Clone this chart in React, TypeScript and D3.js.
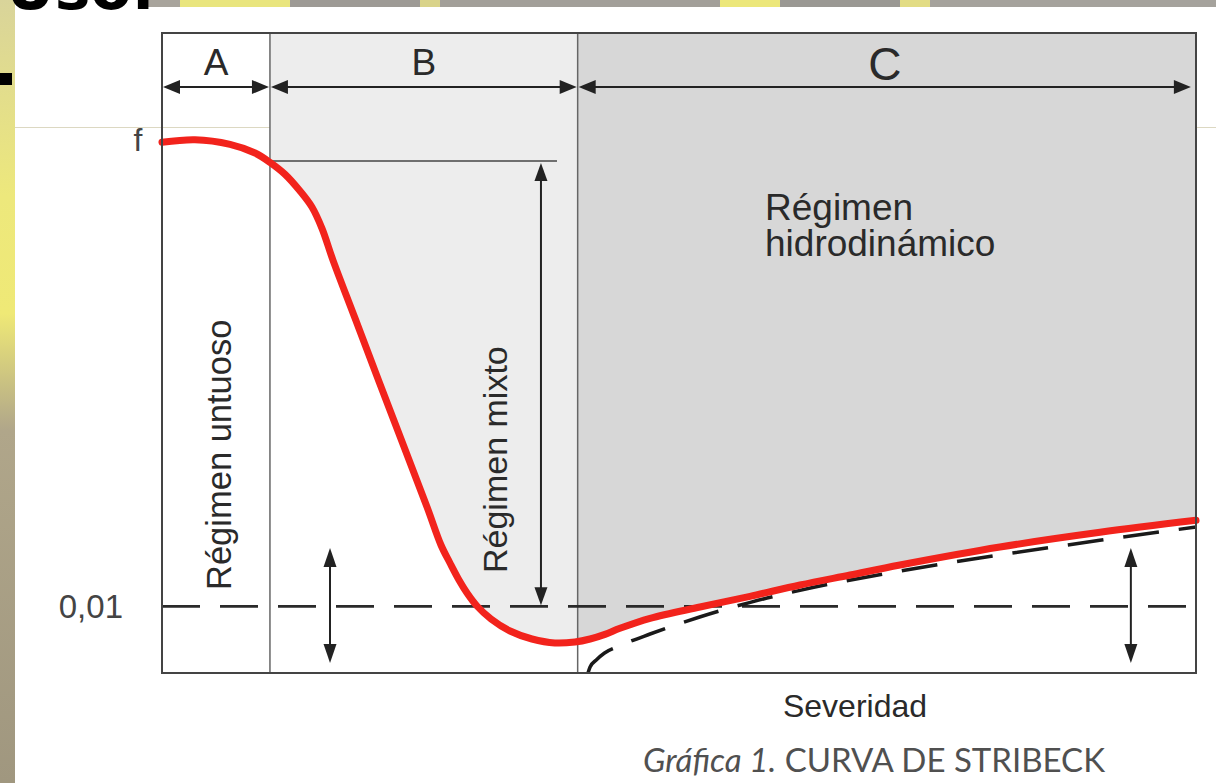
import React from 'react'
import * as d3 from 'd3'

// severity (x, 0-100) and friction coefficient (y)
const regionNames = ['A', 'B', 'C']
const regionBounds = [0, 10.44, 40.2, 100]
const arrowEnds = [[0, 10.44], [10.44, 40.2], [40.2, 99.6]]

const redX = [0, 3.19, 6.58, 9.0, 10.44, 11.9, 13.35, 14.5, 15.47, 16.54, 18.67, 22.05, 25.63, 26.98, 27.85, 28.72, 29.5, 30.46, 31.82, 33.66, 35.78, 37.99, 39.94, 41.4, 42.84, 44.29, 47.2, 52.03, 56.87, 61.7, 66.54, 71.37, 81.04, 90.72, 100]
const redY = [0.0796, 0.08, 0.0793, 0.078, 0.0766, 0.0748, 0.0723, 0.0699, 0.0667, 0.0619, 0.0532, 0.0394, 0.0249, 0.0192, 0.0165, 0.01395, 0.012, 0.01005, 0.0081, 0.0063, 0.0051, 0.0045, 0.00465, 0.0051, 0.0058, 0.0067, 0.0082, 0.0099, 0.0115, 0.0132, 0.0147, 0.0162, 0.0189, 0.0211, 0.0229]

const hydroX = [41.2, 41.4, 42.0, 42.8, 44.0, 47.2, 52.0, 56.9, 61.7, 71.4, 81.0, 90.7, 100]
const hydroY = [0, 0.0009, 0.00195, 0.003, 0.0039, 0.00585, 0.0084, 0.0106, 0.0124, 0.0153, 0.0177, 0.0199, 0.0219]

const fLevel = 0.0796
const refLevel = 0.01
const yTop = 0.096
const arrowLevel = 0.0879
const mixtoX = 36.65
const mixtoTop = 0.0768
const mixtoLineEnd = 38.2
const smallArrowsX = [16.25, 93.7]
const smallArrowRange = [0.0015, 0.01875]

const W = 1216, H = 783
const font = '"Liberation Sans", Arial, sans-serif'

const head = (tx: number, ty: number, dx: number, dy: number, len = 16, half = 6.5) => {
    const bx = tx - dx * len, by = ty - dy * len
    return `${tx},${ty} ${bx - dy * half},${by + dx * half} ${bx + dy * half},${by - dx * half}`
}

const App = () => {
    const x = d3.scaleLinear().domain([0, 100]).range([162, 1196])
    const y = d3.scaleLinear().domain([0, yTop]).range([673, 33])

    const red = redX.map((v, i) => [v, redY[i]] as [number, number])
    const hydro = hydroX.map((v, i) => [v, hydroY[i]] as [number, number])

    const smooth = d3.curveCatmullRom.alpha(0.5)
    const line = d3.line<[number, number]>().x(d => x(d[0])).y(d => y(d[1])).curve(smooth)
    const hydroLine = d3.line<[number, number]>().x(d => x(d[0])).y(d => y(d[1])).curve(d3.curveMonotoneX)
    const area = d3.area<[number, number]>().x(d => x(d[0])).y0(y(yTop)).y1(d => y(d[1])).curve(smooth)

    const shadeColors = ['#ffffff', '#ededed', '#d7d7d7']
    const topSegs = [[148, 180, '#a8a49c'], [180, 290, '#e9e57e'], [290, 420, '#9d9a95'], [420, 440, '#d9d38a'], [440, 720, '#a29f99'], [720, 780, '#ece77a'], [780, 900, '#9a9893'], [900, 930, '#e2dc84'], [930, 1216, '#a5a29c']]

    return (
        <svg width={W} height={H} style={{ position: 'absolute', left: 0, top: 0, background: '#fff' }}>
            <defs>
                <linearGradient id="leftStrip" x1="0" y1="0" x2="0" y2="1">
                    <stop offset="0" stopColor="#d9d49a" />
                    <stop offset="0.25" stopColor="#ede87c" />
                    <stop offset="0.4" stopColor="#efe976" />
                    <stop offset="0.55" stopColor="#b0a68a" />
                    <stop offset="1" stopColor="#a0977f" />
                </linearGradient>
                {regionNames.map((n, i) => (
                    <clipPath id={'clip' + n} key={n}>
                        <rect x={x(regionBounds[i])} y={y(yTop)} width={x(regionBounds[i + 1]) - x(regionBounds[i])} height={y(0) - y(yTop)} />
                    </clipPath>
                ))}
            </defs>

            {/* page decorations */}
            <rect x={0} y={0} width={15} height={H} fill="url(#leftStrip)" />
            {topSegs.map((s, i) => <rect key={i} x={s[0] as number} y={0} width={(s[1] as number) - (s[0] as number)} height={7} fill={s[2] as string} />)}
            <text x={6} y={9} fontFamily='"DejaVu Sans", sans-serif' fontWeight="bold" fontSize={60} fill="#000">Uso.</text>
            <rect x={0} y={73} width={12} height={12} fill="#000" />
            <line x1={15} x2={W} y1={127.5} y2={127.5} stroke="#dcd8c2" strokeWidth={1} />

            {/* shading above curve */}
            {regionNames.map((n, i) => i > 0 && (
                <path key={n} d={area(red) || ''} fill={shadeColors[i]} clipPath={`url(#clip${n})`} />
            ))}

            {/* region dividers */}
            {regionBounds.slice(1, -1).map((b, i) => (
                <line key={i} x1={x(b)} x2={x(b)} y1={y(yTop)} y2={y(0)} stroke="#666" strokeWidth={1.5} />
            ))}

            {/* 0,01 reference */}
            <line x1={x(0)} x2={x(100)} y1={y(refLevel)} y2={y(refLevel)} stroke="#2a2a2a" strokeWidth={2.6} strokeDasharray="38 20" />

            {/* mixto range */}
            <line x1={x(regionBounds[1])} x2={x(mixtoLineEnd)} y1={y(mixtoTop)} y2={y(mixtoTop)} stroke="#444" strokeWidth={1.5} />
            <line x1={x(mixtoX)} x2={x(mixtoX)} y1={y(mixtoTop) + 12} y2={y(refLevel) - 12} stroke="#222" strokeWidth={2} />
            <polygon points={head(x(mixtoX), y(mixtoTop) + 2, 0, -1, 18, 6.5)} fill="#222" />
            <polygon points={head(x(mixtoX), y(refLevel) - 1, 0, 1, 18, 6.5)} fill="#222" />

            {/* small double arrows */}
            {smallArrowsX.map((v, i) => (
                <g key={i}>
                    <line x1={x(v)} x2={x(v)} y1={y(smallArrowRange[1]) + 12} y2={y(smallArrowRange[0]) - 12} stroke="#222" strokeWidth={2} />
                    <polygon points={head(x(v), y(smallArrowRange[1]), 0, -1, 19, 6.5)} fill="#222" />
                    <polygon points={head(x(v), y(smallArrowRange[0]), 0, 1, 19, 6.5)} fill="#222" />
                </g>
            ))}

            {/* hydrodynamic theory */}
            <path d={hydroLine(hydro) || ''} fill="none" stroke="#1a1a1a" strokeWidth={3.5} strokeDasharray="36 20" />

            {/* Stribeck curve */}
            <path d={line(red) || ''} fill="none" stroke="#f2231c" strokeWidth={7} strokeLinecap="round" />

            {/* frame */}
            <rect x={x(0)} y={y(yTop)} width={x(100) - x(0)} height={y(0) - y(yTop)} fill="none" stroke="#444" strokeWidth={2} />

            {/* region arrows and labels */}
            {arrowEnds.map((e, i) => {
                const a = x(e[0]) + 1, b = x(e[1]) - 1, yy = y(arrowLevel)
                return (
                    <g key={i}>
                        <line x1={a + 10} x2={b - 10} y1={yy} y2={yy} stroke="#222" strokeWidth={2.2} />
                        <polygon points={head(a, yy, -1, 0, 17, 7)} fill="#222" />
                        <polygon points={head(b, yy, 1, 0, 17, 7)} fill="#222" />
                        <text x={(x(regionBounds[i]) + x(regionBounds[i + 1])) / 2 + (i === 2 ? -2 : 0)} y={i === 2 ? 80 : 75} textAnchor="middle"
                            fontFamily={font} fontSize={i === 2 ? 46 : 37} fill="#2a2a2a">{regionNames[i]}</text>
                    </g>
                )
            })}

            {/* axis labels */}
            <text x={138} y={y(fLevel) + 9} textAnchor="middle" fontFamily={font} fontSize={32} fill="#444">f</text>
            <text x={123} y={y(refLevel) + 12} textAnchor="end" fontFamily={font} fontSize={33} fill="#444">0,01</text>
            <text x={855} y={717} textAnchor="middle" fontFamily={font} fontSize={32} fill="#2a2a2a">Severidad</text>

            {/* regime labels */}
            <text transform="translate(231,590) rotate(-90)" fontFamily={font} fontSize={34.5} fill="#2a2a2a">Régimen untuoso</text>
            <text transform="translate(507,573) rotate(-90)" fontFamily={font} fontSize={34} fill="#2a2a2a">Régimen mixto</text>
            <text x={765} y={220} fontFamily={font} fontSize={37} fill="#2a2a2a">Régimen</text>
            <text x={765} y={256} fontFamily={font} fontSize={37} fill="#2a2a2a">hidrodinámico</text>

            {/* caption */}
            <text x={1105} y={772} textAnchor="end" fontFamily='Lato, "Open Sans", sans-serif' fontSize={33} fill="#505050">
                <tspan fontStyle="italic">Gráfica 1.</tspan> CURVA DE STRIBECK
            </text>
        </svg>
    )
}

export default App
